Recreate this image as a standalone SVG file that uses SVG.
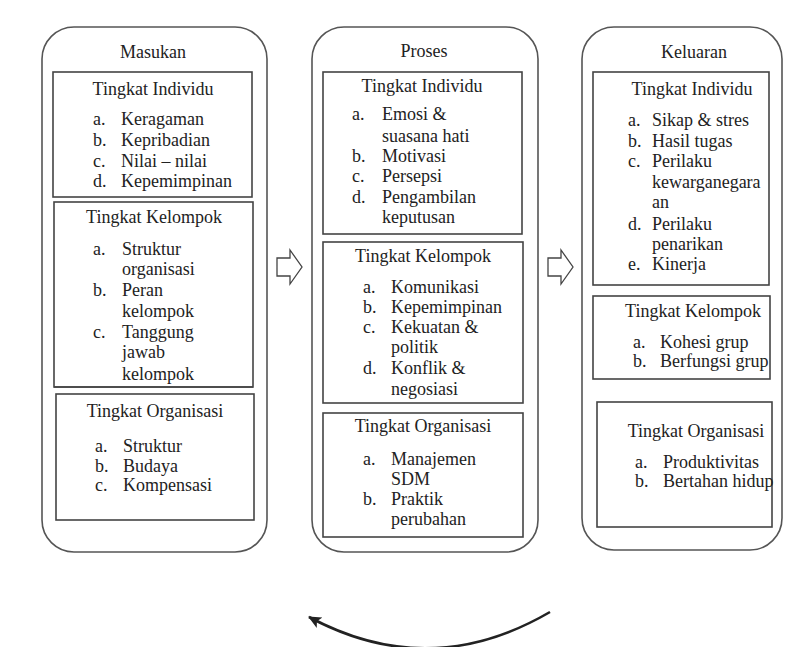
<svg xmlns="http://www.w3.org/2000/svg" width="795" height="647" viewBox="0 0 795 647" font-family="'Liberation Serif', 'DejaVu Serif', serif">
<style>
.outer{fill:none;stroke:#555;stroke-width:1.6}
.box{fill:#fff;stroke:#444;stroke-width:1.6}
text{font-family:'Liberation Serif','DejaVu Serif',serif;font-size:18px;fill:#222}
.c{text-anchor:middle}
.blk{fill:#fff;stroke:#444;stroke-width:1.3;stroke-linejoin:miter}
</style>
<defs>
<marker id="ah" markerUnits="userSpaceOnUse" markerWidth="16" markerHeight="14" refX="12" refY="6" orient="auto">
<path d="M0,0 L13,6 L0,12 L3,6 Z" fill="#222"/>
</marker>
<polygon id="barrow" points="0,-9 13,-9 13,-17 25,0 13,17 13,9 0,9"/>
</defs>
<rect width="795" height="647" fill="#fff"/>

<g id="masukan">
<rect class="outer" x="42" y="27" width="225" height="525" rx="32" ry="32"/>
<text class="c" x="153" y="58">Masukan</text>
</g>
<g id="masukan-individu">
<rect class="box" x="53" y="72" width="199" height="125"/>
<text class="c" x="153" y="95">Tingkat Individu</text>
<text x="93" y="125">a.</text><text x="121" y="125">Keragaman</text>
<text x="93" y="146">b.</text><text x="121" y="146">Kepribadian</text>
<text x="93" y="167">c.</text><text x="121" y="167">Nilai – nilai</text>
<text x="93" y="187">d.</text><text x="121" y="187">Kepemimpinan</text>
</g>
<g id="masukan-kelompok">
<rect class="box" x="54" y="202" width="199" height="185"/>
<text class="c" x="154" y="223">Tingkat Kelompok</text>
<text x="93" y="255">a.</text><text x="122" y="255">Struktur</text>
<text x="122" y="275">organisasi</text>
<text x="93" y="296">b.</text><text x="122" y="296">Peran</text>
<text x="122" y="317">kelompok</text>
<text x="93" y="338">c.</text><text x="122" y="338">Tanggung</text>
<text x="122" y="358">jawab</text>
<text x="122" y="380">kelompok</text>
<line x1="54" y1="387" x2="253" y2="387" stroke="#444" stroke-width="1.6"/>
</g>
<g id="masukan-organisasi">
<rect class="box" x="56" y="394" width="198" height="126"/>
<text class="c" x="155" y="417">Tingkat Organisasi</text>
<text x="95" y="452">a.</text><text x="123" y="452">Struktur</text>
<text x="95" y="472">b.</text><text x="123" y="472">Budaya</text>
<text x="95" y="491">c.</text><text x="123" y="491">Kompensasi</text>
</g>

<g id="proses">
<rect class="outer" x="312" y="27" width="226" height="525" rx="32" ry="32"/>
<text class="c" x="424" y="57">Proses</text>
</g>
<g id="proses-individu">
<rect class="box" x="323" y="72" width="199" height="162"/>
<text class="c" x="422" y="92">Tingkat Individu</text>
<text x="352" y="120">a.</text><text x="382" y="120">Emosi &amp;</text>
<text x="382" y="142">suasana hati</text>
<text x="352" y="162">b.</text><text x="382" y="162">Motivasi</text>
<text x="352" y="182">c.</text><text x="382" y="182">Persepsi</text>
<text x="352" y="203">d.</text><text x="382" y="203">Pengambilan</text>
<text x="382" y="223">keputusan</text>
</g>
<g id="proses-kelompok">
<rect class="box" x="323" y="242" width="200" height="161"/>
<text class="c" x="423" y="262">Tingkat Kelompok</text>
<text x="363" y="293">a.</text><text x="391" y="293">Komunikasi</text>
<text x="363" y="313">b.</text><text x="391" y="313">Kepemimpinan</text>
<text x="363" y="333">c.</text><text x="391" y="333">Kekuatan &amp;</text>
<text x="391" y="353">politik</text>
<text x="363" y="374">d.</text><text x="391" y="374">Konflik &amp;</text>
<text x="391" y="395">negosiasi</text>
</g>
<g id="proses-organisasi">
<rect class="box" x="323" y="413" width="200" height="124"/>
<text class="c" x="423" y="432">Tingkat Organisasi</text>
<text x="363" y="465">a.</text><text x="391" y="465">Manajemen</text>
<text x="391" y="485">SDM</text>
<text x="363" y="505">b.</text><text x="391" y="505">Praktik</text>
<text x="391" y="525">perubahan</text>
</g>

<g id="keluaran">
<rect class="outer" x="582" y="27" width="200" height="523" rx="32" ry="32"/>
<text class="c" x="694" y="58">Keluaran</text>
</g>
<g id="keluaran-individu">
<rect class="box" x="593" y="72" width="176" height="213"/>
<text class="c" x="692" y="95">Tingkat Individu</text>
<text x="628" y="126">a.</text><text x="652" y="126">Sikap &amp; stres</text>
<text x="628" y="147">b.</text><text x="652" y="147">Hasil tugas</text>
<text x="628" y="167">c.</text><text x="652" y="167">Perilaku</text>
<text x="652" y="188">kewarganegara</text>
<text x="652" y="208">an</text>
<text x="628" y="230">d.</text><text x="652" y="230">Perilaku</text>
<text x="652" y="250">penarikan</text>
<text x="628" y="270">e.</text><text x="652" y="270">Kinerja</text>
</g>
<g id="keluaran-kelompok">
<rect class="box" x="593" y="296" width="177" height="83"/>
<text class="c" x="693" y="317">Tingkat Kelompok</text>
<text x="633" y="348">a.</text><text x="660" y="348">Kohesi grup</text>
<text x="633" y="367">b.</text><text x="660" y="367">Berfungsi grup</text>
</g>
<g id="keluaran-organisasi">
<rect class="box" x="597" y="402" width="175" height="125"/>
<text class="c" x="696" y="437">Tingkat Organisasi</text>
<text x="635" y="468">a.</text><text x="663" y="468">Produktivitas</text>
<text x="635" y="487">b.</text><text x="663" y="487">Bertahan hidup</text>
</g>

<g id="connectors">
<use href="#barrow" class="blk" transform="translate(277,267)"/>
<use href="#barrow" class="blk" transform="translate(548,267)"/>
<path d="M 550 612 Q 430 682 309 617" fill="none" stroke="#222" stroke-width="2.6" marker-end="url(#ah)"/>
</g>
</svg>
